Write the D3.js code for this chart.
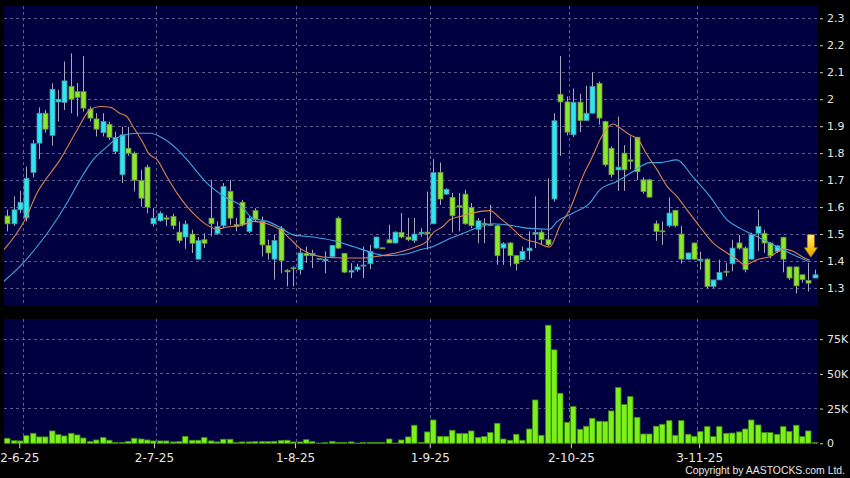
<!DOCTYPE html>
<html><head><meta charset="utf-8">
<script src="https://cdn.jsdelivr.net/npm/d3@7"></script>
<style>html,body{margin:0;padding:0;background:#000;}svg{display:block}</style>
</head><body>
<svg id="chart" width="850" height="478"></svg>
<script>
// ---------- DATA ----------
const openP = [1.567,1.538,1.59,1.56,1.728,1.837,1.948,1.866,1.99,1.988,2.047,2.028,2.028,1.963,1.927,1.876,1.907,1.806,1.72,1.818,
1.80,1.699,1.748,1.538,1.549,1.56,1.565,1.507,1.489,1.50,1.407,1.479,1.559,1.501,1.531,1.658,1.535,1.618,1.51,1.587,
1.547,1.458,1.407,1.52,1.365,1.375,1.368,1.428,1.42,1.41,1.401,1.417,1.559,1.428,1.359,1.368,1.385,1.39,1.448,1.449,
1.479,1.467,1.506,1.489,1.476,1.501,1.507,1.538,1.728,1.648,1.636,1.605,1.648,1.599,1.518,1.54,1.536,1.531,1.448,1.467,
1.42,1.405,1.438,1.50,1.507,1.479,1.63,2.018,1.99,1.868,1.989,1.921,1.948,2.059,1.917,1.818,1.738,1.80,1.775,1.859,
1.701,1.701,1.538,1.512,1.531,1.588,1.50,1.407,1.467,1.402,1.407,1.306,1.33,1.362,1.39,1.467,1.448,1.407,1.503,1.503,
1.467,1.436,1.488,1.378,1.378,1.349,1.328,1.337];
const highP = [1.59,1.64,1.66,1.75,1.849,1.97,1.96,2.059,2.035,2.14,2.17,2.06,2.16,1.973,1.948,1.948,1.917,1.88,1.898,1.898,
1.806,1.738,1.757,1.596,1.584,1.57,1.575,1.547,1.55,1.516,1.489,1.503,1.701,1.547,1.689,1.701,1.56,1.627,1.568,1.596,
1.565,1.479,1.497,1.53,1.37,1.38,1.445,1.454,1.442,1.41,1.436,1.46,1.565,1.43,1.392,1.39,1.454,1.46,1.49,1.45,
1.535,1.51,1.578,1.56,1.56,1.522,1.658,1.778,1.765,1.67,1.652,1.652,1.664,1.615,1.559,1.559,1.608,1.535,1.47,1.47,
1.42,1.454,1.51,1.64,1.516,1.707,1.948,2.16,2.01,2.04,2.02,2.05,2.10,2.066,1.92,1.825,1.936,1.83,1.862,1.86,
1.71,1.705,1.55,1.547,1.636,1.59,1.53,1.43,1.467,1.435,1.41,1.33,1.405,1.393,1.479,1.497,1.454,1.505,1.59,1.516,
1.47,1.46,1.49,1.38,1.38,1.35,1.393,1.368];
const lowP = [1.51,1.53,1.577,1.547,1.71,1.778,1.876,1.828,1.917,1.96,1.948,1.936,1.954,1.917,1.862,1.862,1.849,1.797,1.689,1.79,
1.658,1.602,1.577,1.528,1.546,1.53,1.518,1.466,1.445,1.43,1.405,1.448,1.491,1.497,1.522,1.534,1.51,1.528,1.504,1.547,
1.417,1.405,1.331,1.355,1.306,1.306,1.35,1.393,1.374,1.41,1.355,1.41,1.445,1.355,1.337,1.36,1.337,1.37,1.446,1.445,
1.467,1.465,1.485,1.473,1.467,1.49,1.442,1.538,1.608,1.645,1.506,1.51,1.535,1.522,1.466,1.466,1.53,1.386,1.386,1.38,
1.365,1.403,1.405,1.448,1.46,1.454,1.62,1.79,1.866,1.86,1.878,1.921,1.948,1.906,1.75,1.71,1.66,1.66,1.74,1.70,
1.65,1.635,1.475,1.46,1.525,1.525,1.39,1.405,1.405,1.368,1.30,1.30,1.33,1.343,1.362,1.442,1.358,1.405,1.436,1.43,
1.41,1.43,1.358,1.33,1.28,1.32,1.287,1.337];
const closeP = [1.538,1.59,1.618,1.707,1.835,1.948,1.889,2.037,2.0,2.068,2.0,2.007,1.967,1.93,1.889,1.917,1.859,1.858,1.868,1.80,
1.70,1.633,1.60,1.559,1.577,1.555,1.531,1.476,1.537,1.466,1.476,1.466,1.538,1.528,1.676,1.559,1.53,1.534,1.559,1.553,
1.46,1.43,1.476,1.402,1.36,1.372,1.43,1.42,1.428,1.41,1.407,1.458,1.448,1.359,1.365,1.378,1.385,1.436,1.489,1.448,
1.467,1.507,1.489,1.479,1.50,1.507,1.501,1.728,1.63,1.666,1.568,1.60,1.538,1.531,1.549,1.535,1.535,1.42,1.464,1.42,
1.39,1.436,1.448,1.506,1.479,1.46,1.92,1.99,1.878,1.989,1.921,1.948,2.047,1.93,1.757,1.72,1.748,1.738,1.77,1.732,
1.658,1.637,1.51,1.51,1.578,1.531,1.407,1.43,1.407,1.407,1.306,1.33,1.358,1.36,1.448,1.448,1.368,1.497,1.528,1.467,
1.42,1.456,1.407,1.337,1.308,1.331,1.318,1.349];
const volumeK = [3.6,1.9,1.7,5.5,7.2,4.6,4.6,8.9,6.2,5.3,7.2,6.0,3.8,1.4,2.4,4.1,2.2,0.7,0.7,1.4,
3.6,3.1,2.4,1.7,1.7,1.7,1.0,1.2,5.0,2.2,2.2,4.1,1.7,1.0,2.9,2.9,0.5,1.0,1.0,1.2,
1.2,1.2,1.4,2.0,2.2,1.0,1.0,2.6,1.2,0.2,0.5,1.4,0.7,0.7,1.0,0.2,0.7,0.7,0.7,0.7,
3.1,0.2,2.4,4.6,13.0,0.7,8.2,16.8,5.0,5.0,9.4,7.0,7.0,8.9,4.3,4.8,7.7,14.4,3.1,2.2,
6.5,2.2,10.3,31.2,5.8,85.0,67.3,36.0,15.1,26.4,10.1,12.3,18.0,15.9,15.6,23.3,40.1,27.9,33.6,18.7,
6.7,6.7,12.3,13.7,16.3,5.8,16.3,6.5,5.0,8.4,12.0,4.8,12.0,7.2,7.4,8.2,10.3,16.8,13.2,7.7,
7.7,6.5,12.0,8.6,13.0,4.8,8.9,0.5];
// moving averages: [candle index, value]
const maOrangeIdx = [-0.5,2.8,4.7,8.3,11.0,13.0,14.6,16.2,17.7,18.8,19.8,21.4,22.2,23.6,25.1,26.7,28.3,29.8,31.4,33.0,
34.6,36.6,38.6,40.9,42.9,44.5,46.0,48.1,49.7,53.4,56.0,57.5,59.7,62.2,64.4,66.0,66.9,68.5,69.6,71.2,
73.2,75.9,77.5,79.1,81.1,83.3,85.3,86.9,88.5,90.5,92.1,93.2,95.3,96.8,97.9,99.2,100.3,102.2,103.8,105.3,
106.9,108.9,111.0,113.2,114.8,116.0,117.9,120.0,122.0,123.6,125.1,126.2];
const maOrangeVal = [1.442,1.553,1.652,1.775,1.886,1.96,1.973,1.97,1.948,1.936,1.898,1.837,1.80,1.775,1.713,1.652,1.602,1.565,1.534,1.518,
1.526,1.531,1.547,1.538,1.516,1.482,1.448,1.423,1.415,1.411,1.411,1.415,1.423,1.436,1.454,1.473,1.503,1.528,1.553,1.565,
1.578,1.587,1.559,1.528,1.485,1.469,1.452,1.53,1.593,1.713,1.79,1.849,1.908,1.886,1.868,1.852,1.806,1.738,1.676,1.64,
1.59,1.528,1.467,1.43,1.405,1.386,1.405,1.417,1.444,1.436,1.415,1.403];
const maBlueIdx = [-0.5,2.5,4.7,6.7,9.4,11.45,13.5,15.7,17.7,20.4,22.5,24.5,26.7,28.3,31.4,34.6,36.6,38.6,40.9,42.9,
45.0,48.1,51.2,54.4,57.5,59.7,62.9,64.9,67.0,69.2,71.7,74.3,76.4,79.5,81.7,85.3,86.5,89.0,91.6,93.2,
95.9,98.4,101.1,102.6,105.3,107.8,110.5,113.2,115.2,117.9,121.0,123.6,126.2];
const maBlueVal = [1.325,1.392,1.454,1.516,1.615,1.701,1.775,1.824,1.862,1.874,1.874,1.855,1.815,1.775,1.689,1.633,1.608,1.559,1.547,1.525,
1.497,1.489,1.476,1.454,1.43,1.42,1.427,1.442,1.454,1.479,1.503,1.526,1.538,1.531,1.522,1.518,1.547,1.578,1.615,1.664,
1.695,1.732,1.765,1.765,1.775,1.713,1.64,1.553,1.522,1.491,1.454,1.423,1.396];
const dateTickIdx = [3,24,46,67,89,109];
const dateTickLabels = ["2-6-25","2-7-25","1-8-25","1-9-25","2-10-25","3-11-25"];
const priceTicks = [1.3,1.4,1.5,1.6,1.7,1.8,1.9,2.0,2.1,2.2,2.3];
const volTicks = [0,25,50,75];
const volTickLabels = ["0","25K","50K","75K"];
const copyright = "Copyright by AASTOCKS.com Ltd.";

// ---------- LAYOUT ----------
const svg = d3.select("#chart");
const L = 4, R = 818, pTop = 6, pBot = 306, vTop = 319, vBot = 443.3;
const N = closeP.length;
const xEdge = d3.scaleLinear().domain([0, N]).range([L, R]);
const xLabel = d3.scaleLinear().domain([0, N]).range([0, 821]);
const xc = i => xEdge(i + 0.5);
const y = d3.scaleLinear().domain([1.2333, 2.3456]).range([pBot, pTop]);
const yv = d3.scaleLinear().domain([0, 89.5]).range([vBot, vTop]);
const bw = 5;
const gridCol = "#5c5c8e";
const font = "DejaVu Sans, Verdana, sans-serif";

svg.append("rect").attr("width",850).attr("height",478).attr("fill","#000");
svg.append("rect").attr("x",L).attr("y",pTop).attr("width",R-L).attr("height",pBot-pTop).attr("fill","#000040");
svg.append("rect").attr("x",L).attr("y",vTop).attr("width",R-L).attr("height",vBot-vTop).attr("fill","#000040");

// grids
const g = svg.append("g").attr("stroke",gridCol).attr("stroke-width",1).attr("stroke-dasharray","3,3").attr("shape-rendering","crispEdges");
g.selectAll(".hp").data(priceTicks).join("line").attr("x1",L).attr("x2",R).attr("y1",d=>y(d)).attr("y2",d=>y(d));
g.selectAll(".hv").data(volTicks.slice(1)).join("line").attr("class","hv").attr("x1",L).attr("x2",R).attr("y1",d=>yv(d)).attr("y2",d=>yv(d));
g.selectAll(".vp").data(dateTickIdx).join("line").attr("class","vp").attr("x1",d=>xEdge(d)).attr("x2",d=>xEdge(d)).attr("y1",pTop).attr("y2",pBot);
g.selectAll(".vv").data(dateTickIdx).join("line").attr("class","vv").attr("x1",d=>xEdge(d)).attr("x2",d=>xEdge(d)).attr("y1",vTop).attr("y2",vBot);

// candles
const idx = d3.range(N);
const cg = svg.append("g");
cg.selectAll(".w").data(idx).join("line")
  .attr("x1",i=>Math.round(xc(i))+0.5).attr("x2",i=>Math.round(xc(i))+0.5)
  .attr("y1",i=>y(highP[i])).attr("y2",i=>y(lowP[i]))
  .attr("stroke","#a8a8b8").attr("stroke-width",1);
cg.selectAll(".b").data(idx).join("rect")
  .attr("x",i=>Math.round(xc(i))-2)
  .attr("width",bw)
  .attr("y",i=>y(Math.max(openP[i],closeP[i])))
  .attr("height",i=>Math.max(1, Math.abs(y(openP[i])-y(closeP[i]))))
  .attr("fill",i=>closeP[i]>=openP[i]?"#2ee6f2":"#8ae82a")
  .attr("stroke",i=>closeP[i]>=openP[i]?"#4a8f9a":"#6f8f4a")
  .attr("stroke-width",0.8);

// moving averages
const lineGen = d3.line().x(d=>xc(d[0])).y(d=>y(d[1])).curve(d3.curveMonotoneX);
svg.append("path").datum(maBlueIdx.map((d,k)=>[d,maBlueVal[k]]))
  .attr("d",lineGen).attr("fill","none").attr("stroke","#3ea6e0").attr("stroke-width",1.1);
svg.append("path").datum(maOrangeIdx.map((d,k)=>[d,maOrangeVal[k]]))
  .attr("d",lineGen).attr("fill","none").attr("stroke","#d9844c").attr("stroke-width",1.1);

// volume
svg.append("g").selectAll("rect").data(idx).join("rect")
  .attr("x",i=>Math.round(xc(i))-2.5).attr("width",5.5)
  .attr("y",i=>yv(volumeK[i])).attr("height",i=>vBot-yv(volumeK[i]))
  .attr("fill","#7cf01a").attr("stroke","#3f8a10").attr("stroke-width",0.8);

// arrow
const defs = svg.append("defs");
const grad = defs.append("linearGradient").attr("id","ag").attr("x1",0).attr("x2",0).attr("y1",0).attr("y2",1);
grad.append("stop").attr("offset","0%").attr("stop-color","#fff27a");
grad.append("stop").attr("offset","60%").attr("stop-color","#f7c21a");
grad.append("stop").attr("offset","100%").attr("stop-color","#e89a00");
const ax = xc(N-1)-4, ay = y(maOrangeVal[maOrangeVal.length-1]) - 3;
svg.append("path")
  .attr("d",`M${ax-3.5},${ay-22.5} L${ax+3.5},${ay-22.5} L${ax+3.5},${ay-9.5} L${ax+6.5},${ay-9.5} L${ax},${ay} L${ax-6.5},${ay-9.5} L${ax-3.5},${ay-9.5} Z`)
  .attr("fill","url(#ag)").attr("stroke","#c08000").attr("stroke-width",0.6);

// right axes
const axP = svg.append("g").attr("transform",`translate(${R+2},0)`)
  .call(d3.axisRight(y).tickValues(priceTicks).tickSize(3).tickPadding(4).tickFormat(d=>String(+d.toFixed(1))));
const axV = svg.append("g").attr("transform",`translate(${R+2},0)`)
  .call(d3.axisRight(yv).tickValues(volTicks).tickSize(3).tickPadding(4).tickFormat((d,k)=>volTickLabels[k]));
[axP,axV].forEach(a=>{
  a.select(".domain").remove();
  a.selectAll("line").attr("stroke","#cfcfcf");
  a.selectAll("text").attr("fill","#e6e6e6").style("font-family",font).style("font-size","11px");
});

// bottom axis
const axB = svg.append("g").attr("transform",`translate(0,${vBot})`)
  .call(d3.axisBottom(xLabel).tickValues(dateTickIdx).tickSize(5).tickPadding(5).tickFormat((d,k)=>dateTickLabels[k]));
axB.select(".domain").remove();
axB.selectAll("line").attr("stroke","#cfcfcf");
axB.selectAll("text").attr("fill","#e6e6e6").style("font-family",font).style("font-size","12px");

svg.append("text").attr("x",845).attr("y",474).attr("text-anchor","end")
  .attr("fill","#e6e6e6").style("font-family","Liberation Sans, Arial, sans-serif").style("font-size","10.4px")
  .text(copyright);
</script>
</body></html>
